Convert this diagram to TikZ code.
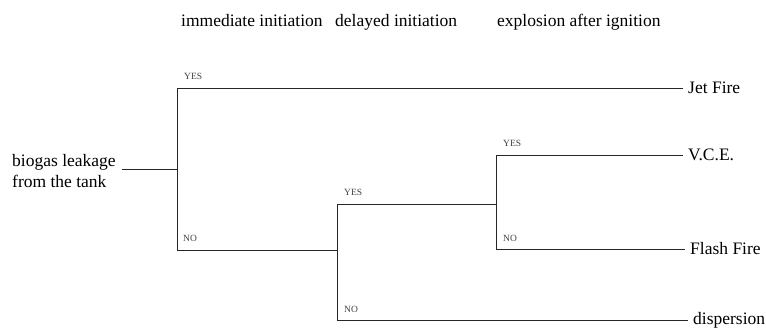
\documentclass[tikz,border=0pt]{standalone}
\usepackage{fontspec}
\setmainfont{Liberation Serif}
\newfontfamily\treefont{Liberation Serif}
\begin{document}
\begin{tikzpicture}[x=1pt,y=-1pt,
  branch/.style={draw=black!85, line width=0.9pt},
  heading/.style={anchor=base west, inner sep=0pt, font=\treefont\fontsize{17.5}{21}\selectfont},
  outcome/.style={anchor=base west, inner xsep=5pt, inner ysep=0pt, font=\treefont\fontsize{17.5}{21}\selectfont},
  answer/.style={anchor=base west, inner sep=0pt, text=black!75, font=\treefont\fontsize{9.5}{11}\selectfont}]
\useasboundingbox (0,0) rectangle (766,329);

% column headings
\node[heading] (h1) at (181,27) {immediate initiation};
\node[heading] (h2) at (335,27) {delayed initiation};
\node[heading] (h3) at (497,27) {explosion after ignition};

% initiating event (base anchor sits on the last line)
\node[heading, align=left] (root) at (12,187) {biogas leakage\\from the tank};
\coordinate (stub) at (122,169);

% branch points
\coordinate (j1) at (177,169);
\coordinate (j1y) at (177,88);
\coordinate (j1n) at (177,250);
\coordinate (j2y) at (337,204);
\coordinate (j2n) at (337,320);
\coordinate (j3) at (496,204);
\coordinate (j3y) at (496,155);
\coordinate (j3n) at (496,249);

% outcomes
\node[outcome] (jet) at (683,93.5) {Jet Fire};
\node[outcome] (vce) at (683,160.5) {V.C.E.};
\node[outcome] (flash) at (685,254.5) {Flash Fire};
\node[outcome] (disp) at (688,324.5) {dispersion};

% tree
\draw[branch] (stub) -- (j1);
\draw[branch] (j1y) -- (j1n);
\draw[branch] (j1y) -- (jet.west |- j1y);
\draw[branch] (j1n) -- (j1n -| j2y);
\draw[branch] (j2y) -- (j2n);
\draw[branch] (j2y) -- (j3);
\draw[branch] (j2n) -- (disp.west |- j2n);
\draw[branch] (j3y) -- (j3n);
\draw[branch] (j3y) -- (vce.west |- j3y);
\draw[branch] (j3n) -- (flash.west |- j3n);

% answers
\node[answer] (y1) at (184,80) {YES};
\node[answer] (n1) at (183,241) {NO};
\node[answer] (y2) at (344,195) {YES};
\node[answer] (n2) at (344,312) {NO};
\node[answer] (y3) at (503,146) {YES};
\node[answer] (n3) at (503,241) {NO};
\end{tikzpicture}
\end{document}
